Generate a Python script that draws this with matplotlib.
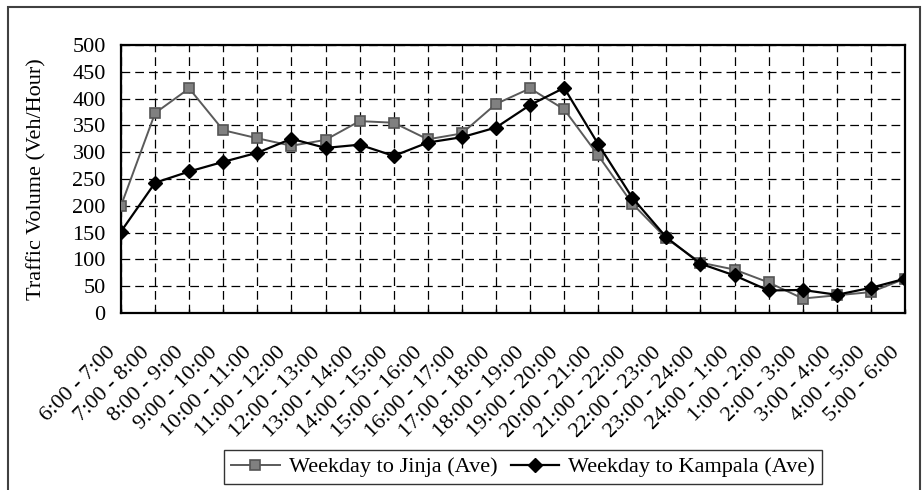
import matplotlib.pyplot as plt
from matplotlib.patches import Rectangle
from matplotlib.transforms import ScaledTranslation

plt.rcParams['font.family'] = ['Liberation Serif', 'DejaVu Serif']

hours = ['6:00 - 7:00', '7:00 - 8:00', '8:00 - 9:00', '9:00 - 10:00',
         '10:00 - 11:00', '11:00 - 12:00', '12:00 - 13:00', '13:00 - 14:00',
         '14:00 - 15:00', '15:00 - 16:00', '16:00 - 17:00', '17:00 - 18:00',
         '18:00 - 19:00', '19:00 - 20:00', '20:00 - 21:00', '21:00 - 22:00',
         '22:00 - 23:00', '23:00 - 24:00', '24:00 - 1:00', '1:00 - 2:00',
         '2:00 - 3:00', '3:00 - 4:00', '4:00 - 5:00', '5:00 - 6:00']

to_jinja = [200, 373, 419, 341, 326, 312, 323, 358, 355, 324, 335, 390,
            419, 380, 294, 204, 139, 94, 81, 57, 27, 33, 39, 64]
to_kampala = [152, 243, 264, 282, 299, 325, 308, 314, 293, 318, 328, 346,
              388, 420, 315, 215, 141, 92, 70, 42, 43, 34, 47, 64]

yticks = list(range(0, 501, 50))

fig = plt.figure(figsize=(9.22, 4.9), dpi=100)
ax = fig.add_axes([121 / 922, 1 - 313 / 490, (905 - 121) / 922, (313 - 45) / 490])

x = list(range(len(hours)))
ax.plot(x, to_jinja, color='#5a5a5a', lw=1.4, marker='s', markersize=7.5,
        markerfacecolor='#808080', markeredgecolor='#555555', markeredgewidth=1.2,
        label='Weekday to Jinja (Ave)', zorder=3)
ax.plot(x, to_kampala, color='black', lw=1.6, marker='D', markersize=7,
        markerfacecolor='black', markeredgecolor='black',
        label='Weekday to Kampala (Ave)', zorder=4)

ax.set_xlim(0, len(hours) - 1)
ax.set_ylim(0, 500)
ax.set_yticks(yticks)
ax.set_xticks(x)
ax.set_xticklabels(hours, rotation=45, ha='right', va='top', rotation_mode='anchor')
ax.tick_params(axis='y', length=0, labelsize=16, pad=11)
ax.tick_params(axis='x', direction='in', length=3, width=1, labelsize=16, pad=0)
shift = ScaledTranslation(-0.15, -0.30, fig.dpi_scale_trans)
for lab in ax.get_xticklabels():
    lab.set_transform(lab.get_transform() + shift)

ax.set_ylabel('Traffic Volume (Veh/Hour)', fontsize=16)
ax.yaxis.set_label_coords(-0.095, 0.5)

ax.grid(True, color='black', lw=0.9, linestyle=(0, (7, 4)))
for s in ax.spines.values():
    s.set_linewidth(1.6)
    s.set_color('black')

leg = ax.legend(loc='center', bbox_to_anchor=(523 / 922, 1 - 467 / 490),
                bbox_transform=fig.transFigure, ncol=2, fontsize=16,
                frameon=True, fancybox=False, handlelength=2.2,
                columnspacing=0.6, handletextpad=0.4, borderpad=0.3)
leg.get_frame().set_edgecolor('black')
leg.get_frame().set_linewidth(1.0)

fig.patches.append(Rectangle((8 / 922, -0.05), 912 / 922, 1.05 - 7 / 490,
                             transform=fig.transFigure, fill=False,
                             edgecolor='#404040', lw=1.5))

fig.savefig('out.png', dpi=100)
